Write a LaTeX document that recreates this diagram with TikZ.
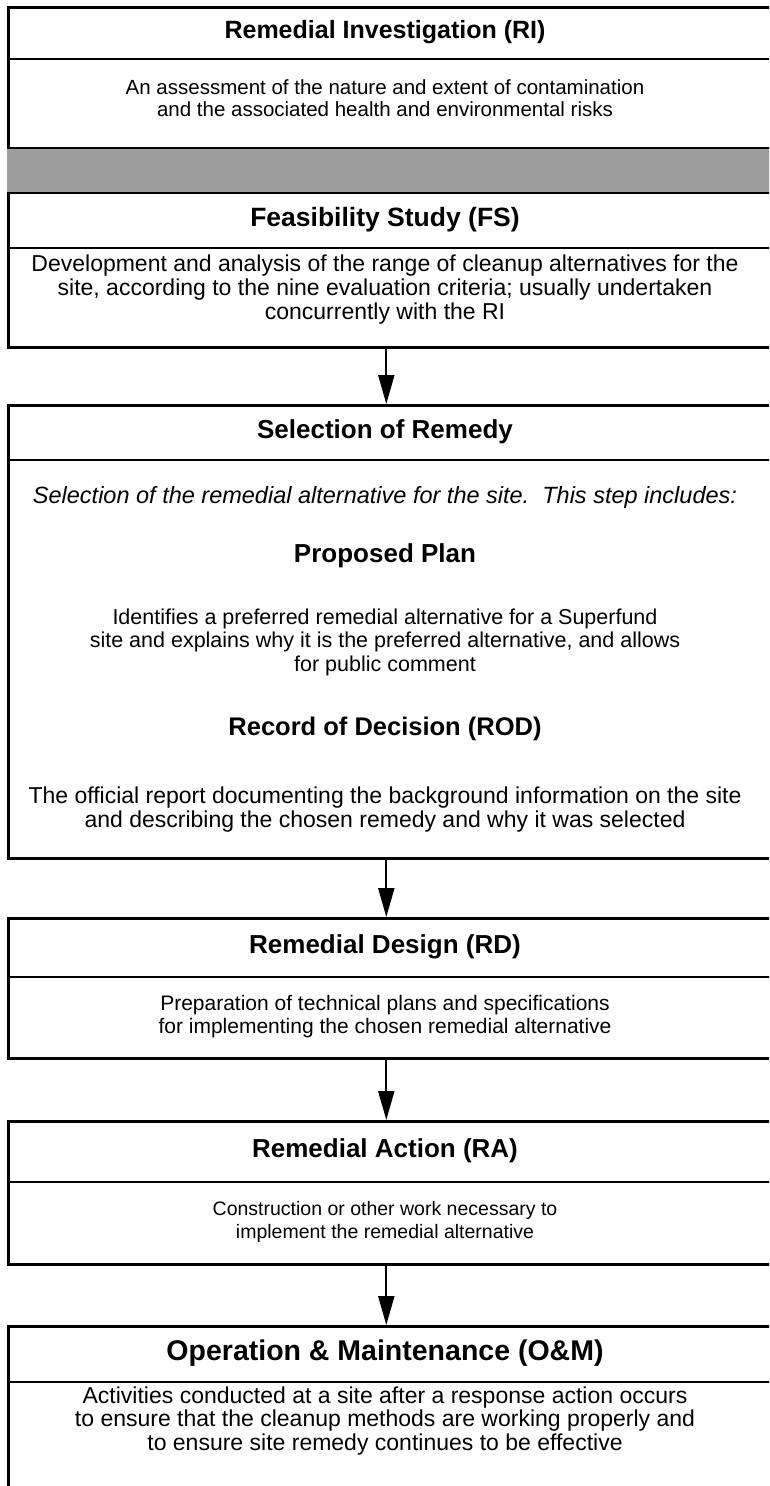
\documentclass[tikz,border=0pt]{standalone}
\usepackage{fontspec}
\setmainfont{Liberation Sans}
\usetikzlibrary{arrows.meta}
\newcommand{\fs}[2]{\fontsize{#1}{#2}\selectfont}
\begin{document}
\begin{tikzpicture}[x=1pt,y=-1pt,
  box/.style={draw, line width=2.6pt, minimum width=764pt, anchor=north west, inner sep=0pt},
  sepline/.style={line width=2.6pt},
  ttl/.style={font=\fs{26}{29}\bfseries, anchor=center},
  desc/.style={font=\fs{21}{23}, align=center, anchor=center},
  idesc/.style={font=\fs{23.5}{25}\itshape, align=center, anchor=center},
  arr/.style={line width=2pt, -{Triangle[length=29pt,width=16pt]}}]
\useasboundingbox (0,0) rectangle (769,1486);
\clip (0,0) rectangle (769,1486);
\fill[white] (0,0) rectangle (769,1486);
% box 1
\node[box, minimum height=340pt] (b1) at (7,6) {};
\draw[sepline] (7,59) -- (775,59);
\fill[black!38] (7,148) rectangle (775,193);
\draw[line width=1.6pt] (7,148) -- (775,148);
\draw[line width=1.6pt] (7,193) -- (775,193);
\draw[sepline] (7,248) -- (775,248);
\node[ttl, font=\fs{25}{28}\bfseries] (t1) at (385,32) {Remedial Investigation (RI)};
\node[desc, font=\fs{20.5}{22}] (d1) at (385,98) {An assessment of the nature and extent of contamination\\and the associated health and environmental risks};
\node[ttl, font=\fs{26.5}{29}\bfseries] (t2) at (385,220) {Feasibility Study (FS)};
\node[desc, font=\fs{23}{24}] (d2) at (385,290) {Development and analysis of the range of cleanup alternatives for the\\site, according to the nine evaluation criteria; usually undertaken\\concurrently with the RI};
% box 2
\node[box, minimum height=453pt] (b2) at (7,404) {};
\draw[sepline] (7,460) -- (775,460);
\node[ttl] (t3) at (385,432) {Selection of Remedy};
\node[idesc] (d3) at (385,497) {Selection of the remedial alternative for the site.\ \ This step includes:};
\node[ttl] (t4) at (385,556) {Proposed Plan};
\node[desc, font=\fs{21.5}{23.5}] (d4) at (385,642) {Identifies a preferred remedial alternative for a Superfund\\site and explains why it is the preferred alternative, and allows\\for public comment};
\node[ttl, font=\fs{25.5}{28}\bfseries] (t5) at (385,729) {Record of Decision (ROD)};
\node[desc, font=\fs{23}{24}] (d5) at (385,810) {The official report documenting the background information on the site\\and describing the chosen remedy and why it was selected};
% box 3
\node[box, minimum height=140pt] (b3) at (7,917) {};
\draw[sepline] (7,977) -- (775,977);
\node[ttl] (t6) at (385,947) {Remedial Design (RD)};
\node[desc] (d6) at (385,1017) {Preparation of technical plans and specifications\\for implementing the chosen remedial alternative};
% box 4
\node[box, minimum height=143pt] (b4) at (7,1120) {};
\draw[sepline] (7,1182) -- (775,1182);
\node[ttl] (t7) at (385,1151) {Remedial Action (RA)};
\node[desc, font=\fs{19.5}{23}] (d7) at (385,1222) {Construction or other work necessary to\\implement the remedial alternative};
% box 5
\node[box, minimum height=250pt] (b5) at (7,1325) {};
\draw[sepline] (7,1382) -- (775,1382);
\node[ttl, font=\fs{28.5}{31}\bfseries] (t8) at (385,1353) {Operation \& Maintenance (O\&M)};
\node[desc, font=\fs{23}{23.5}] (d8) at (385,1421) {Activities conducted at a site after a response action occurs\\to ensure that the cleanup methods are working properly and\\to ensure site remedy continues to be effective};
% arrows
\draw[arr] ([xshift=-4pt]b1.south) -- ([xshift=-4pt]b2.north);
\draw[arr] ([xshift=-4pt]b2.south) -- ([xshift=-4pt]b3.north);
\draw[arr] ([xshift=-4pt]b3.south) -- ([xshift=-4pt]b4.north);
\draw[arr] ([xshift=-4pt]b4.south) -- ([xshift=-4pt]b5.north);
\end{tikzpicture}
\end{document}
